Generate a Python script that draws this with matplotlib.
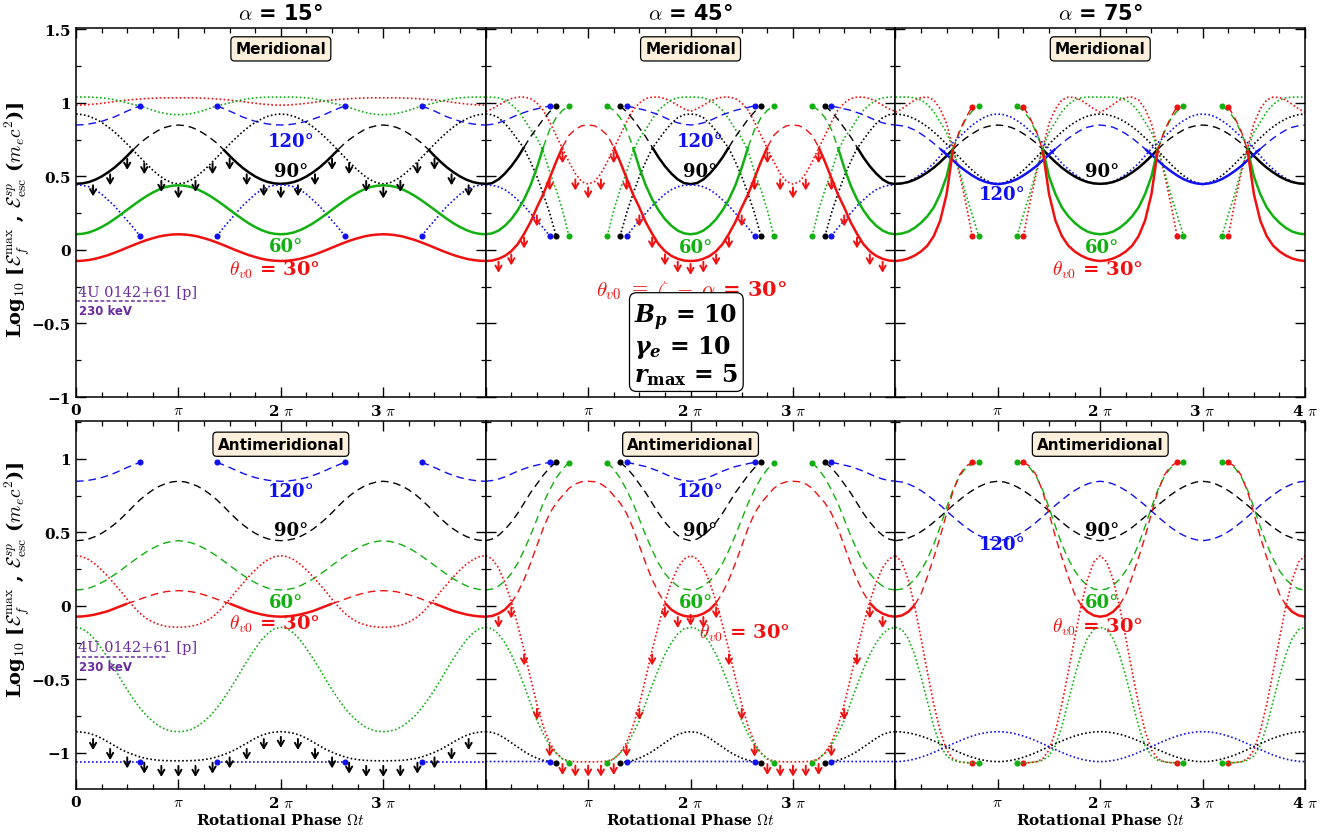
import numpy as np
import matplotlib
matplotlib.use('Agg')
import matplotlib.pyplot as plt
from matplotlib.ticker import MultipleLocator, FixedLocator, FixedFormatter

plt.rcParams['mathtext.fontset'] = 'cm'
plt.rcParams['font.family'] = ['DejaVu Serif']
plt.rcParams['font.weight'] = 'bold'

PI = np.pi
# phase grid over half a rotation period (units of pi); curves are read on it
HALF = np.arange(17) / 16.0

# ---------------- data ----------------
# top-left: alpha = 15, meridional
tl_red = [-0.075, -0.073, -0.068, -0.06, -0.048, -0.035, -0.019, -0.002, 0.016, 0.034, 0.051, 0.067, 0.08, 0.092, 0.1, 0.105, 0.107]
tl_red_dot = [0.985, 0.986, 0.989, 0.993, 0.998, 1.003, 1.01, 1.015, 1.02, 1.024, 1.027, 1.03, 1.032, 1.034, 1.035, 1.035, 1.035]
tl_green = [0.107, 0.11, 0.119, 0.135, 0.156, 0.181, 0.21, 0.241, 0.274, 0.306, 0.337, 0.366, 0.391, 0.412, 0.428, 0.437, 0.44]
tl_green_dot = [1.04, 1.04, 1.04, 1.038, 1.035, 1.03, 1.022, 1.012, 1.0, 0.99, 0.98, 0.965, 0.95, 0.937, 0.928, 0.922, 0.92]
tl_black = [0.45, 0.453, 0.462, 0.478, 0.5, 0.528, 0.56, 0.598, 0.64, 0.685, 0.727, 0.761, 0.791, 0.817, 0.835, 0.846, 0.85]
tl_black_dot = [0.925, 0.921, 0.91, 0.892, 0.868, 0.838, 0.803, 0.763, 0.72, 0.675, 0.63, 0.585, 0.543, 0.506, 0.477, 0.457, 0.45]
tl_blue = [0.85, 0.852, 0.857, 0.865, 0.875, 0.89, 0.905, 0.925, 0.945, 0.963, 0.98]
tl_blue_dot = [0.443, 0.44, 0.43, 0.41, 0.38, 0.34, 0.3, 0.25, 0.2, 0.15, 0.095]
tl_arrow_phase = [0, 1/6, 2/6, 3/6, 4/6, 5/6, 1]
tl_arrow_val = [0.425, 0.44, 0.515, 0.62, 0.59, 0.47, 0.425]

# top-middle: alpha = 45, meridional
tm_red = [-0.075, -0.072, -0.06, -0.04, -0.008, 0.04, 0.11, 0.19, 0.29, 0.38, 0.49, 0.6, 0.7, 0.78, 0.82, 0.845, 0.85]
tm_red_dot = [0.943, 0.96, 0.985, 1.01, 1.03, 1.04, 1.04, 1.03, 1.0, 0.95, 0.87, 0.78, 0.69, 0.6, 0.52, 0.465, 0.448]
tm_green = [0.107, 0.113, 0.132, 0.165, 0.21, 0.27, 0.345, 0.44, 0.56, 0.7, 0.82, 0.9, 0.95, 0.98]
tm_green_dot = [1.04, 1.04, 1.035, 1.02, 0.99, 0.95, 0.89, 0.82, 0.76, 0.67, 0.53, 0.41, 0.27, 0.095]
tm_black = [0.448, 0.455, 0.48, 0.52, 0.57, 0.63, 0.7, 0.77, 0.83, 0.89, 0.94, 0.98]
tm_black_dot = [0.925, 0.92, 0.9, 0.86, 0.81, 0.75, 0.69, 0.6, 0.5, 0.38, 0.25, 0.095]
tm_blue = [0.85, 0.855, 0.865, 0.88, 0.9, 0.92, 0.935, 0.95, 0.96, 0.97, 0.98]
tm_blue_dot = [0.443, 0.44, 0.43, 0.41, 0.38, 0.34, 0.3, 0.25, 0.2, 0.15, 0.095]
tm_arrow_phase = [0, 1/8, 2/8, 3/8, 4/8, 5/8, 6/8, 7/8, 1]
tm_arrow_val = [-0.095, -0.08, -0.03, 0.085, 0.235, 0.48, 0.665, 0.48, 0.425]

# top-right: alpha = 75, meridional
tr_red = [-0.075, -0.07, -0.058, -0.038, -0.01, 0.03, 0.095, 0.2, 0.38, 0.68, 0.81, 0.9, 0.975]
tr_red_dot = [0.937, 0.96, 0.99, 1.02, 1.037, 1.04, 1.02, 0.96, 0.86, 0.69, 0.52, 0.32, 0.095]
tr_green = [0.107, 0.112, 0.125, 0.15, 0.185, 0.23, 0.29, 0.38, 0.5, 0.69, 0.8, 0.89, 0.945, 0.98]
tr_green_dot = [1.04, 1.04, 1.04, 1.035, 1.02, 0.99, 0.94, 0.87, 0.8, 0.69, 0.54, 0.38, 0.24, 0.095]
tr_black = [0.45, 0.453, 0.462, 0.478, 0.5, 0.528, 0.56, 0.598, 0.64, 0.685, 0.727, 0.761, 0.791, 0.817, 0.835, 0.846, 0.85]
tr_black_dot = [0.925, 0.921, 0.91, 0.892, 0.868, 0.838, 0.803, 0.763, 0.72, 0.675, 0.63, 0.585, 0.543, 0.506, 0.477, 0.457, 0.45]
tr_blue = [0.85, 0.845, 0.835, 0.816, 0.79, 0.76, 0.725, 0.688, 0.649, 0.61, 0.57, 0.537, 0.507, 0.482, 0.464, 0.453, 0.448]
tr_blue_dot = [0.448, 0.452, 0.465, 0.487, 0.515, 0.55, 0.59, 0.64, 0.69, 0.73, 0.77, 0.81, 0.85, 0.88, 0.905, 0.92, 0.925]

# bottom-left: alpha = 15, antimeridional
bl_red = [-0.073, -0.071, -0.066, -0.058, -0.047, -0.035, -0.018, -0.001, 0.016, 0.03, 0.046, 0.062, 0.076, 0.088, 0.097, 0.102, 0.104]
bl_red_dot = [0.342, 0.335, 0.315, 0.285, 0.245, 0.2, 0.15, 0.1, 0.045, -0.005, -0.05, -0.085, -0.11, -0.127, -0.138, -0.143, -0.145]
bl_green = [0.109, 0.112, 0.121, 0.137, 0.158, 0.183, 0.212, 0.243, 0.276, 0.308, 0.339, 0.368, 0.393, 0.414, 0.43, 0.439, 0.444]
bl_green_dot = [-0.145, -0.155, -0.185, -0.23, -0.29, -0.355, -0.425, -0.5, -0.57, -0.635, -0.695, -0.745, -0.785, -0.818, -0.84, -0.852, -0.855]
bl_black = [0.444, 0.447, 0.456, 0.472, 0.494, 0.522, 0.555, 0.593, 0.635, 0.68, 0.722, 0.758, 0.789, 0.814, 0.832, 0.844, 0.848]
bl_black_dot = [-0.855, -0.858, -0.866, -0.88, -0.9, -0.925, -0.95, -0.975, -0.995, -1.012, -1.027, -1.038, -1.045, -1.05, -1.052, -1.053, -1.053]
bl_blue = [0.848, 0.85, 0.855, 0.863, 0.873, 0.887, 0.903, 0.922, 0.942, 0.96, 0.977]
bl_blue_dot = [-1.058, -1.058, -1.058, -1.058, -1.058, -1.058, -1.058, -1.058, -1.058, -1.058, -1.058]
bl_arrow_phase = [0, 1/6, 2/6, 3/6, 4/6, 5/6, 1]
bl_arrow_val = [-0.89, -0.905, -0.973, -1.03, -1.066, -1.088, -1.088]

# bottom-middle: alpha = 45, antimeridional
bm_red = [-0.073, -0.068, -0.052, -0.025, 0.02, 0.09, 0.18, 0.29, 0.41, 0.53, 0.63, 0.7, 0.75, 0.8, 0.83, 0.845, 0.848]
bm_red_dot = [0.342, 0.32, 0.26, 0.16, 0.03, -0.13, -0.3, -0.49, -0.67, -0.82, -0.93, -1.0, -1.04, -1.055, -1.059, -1.06, -1.06]
bm_green = [0.109, 0.115, 0.135, 0.17, 0.22, 0.29, 0.38, 0.48, 0.59, 0.7, 0.79, 0.87, 0.93, 0.975]
bm_green_dot = [-0.145, -0.155, -0.19, -0.25, -0.33, -0.43, -0.54, -0.66, -0.78, -0.87, -0.95, -1.0, -1.04, -1.065]
bm_black = [0.444, 0.455, 0.48, 0.52, 0.57, 0.63, 0.7, 0.77, 0.83, 0.89, 0.94, 0.977]
bm_black_dot = [-0.855, -0.86, -0.875, -0.9, -0.93, -0.96, -0.99, -1.015, -1.035, -1.05, -1.058, -1.065]
bm_blue = [0.848, 0.853, 0.863, 0.878, 0.897, 0.917, 0.933, 0.948, 0.958, 0.968, 0.977]
bm_blue_dot = [-1.058, -1.058, -1.058, -1.058, -1.058, -1.058, -1.058, -1.058, -1.058, -1.058, -1.062]
bm_arrow_phase = [0, 1/8, 2/8, 3/8, 4/8, 5/8, 6/8, 7/8, 1]
bm_arrow_val = [-0.06, -0.075, -0.01, -0.33, -0.7, -0.95, -1.075, -1.086, -1.086]

# bottom-right: alpha = 75, antimeridional
br_red = [-0.073, -0.065, -0.04, 0.005, 0.08, 0.2, 0.33, 0.47, 0.63, 0.78, 0.89, 0.95, 0.977]
br_red_dot = [0.342, 0.3, 0.18, 0.0, -0.22, -0.45, -0.67, -0.85, -0.98, -1.04, -1.06, -1.066, -1.068]
br_green = [0.109, 0.115, 0.14, 0.18, 0.24, 0.32, 0.42, 0.54, 0.67, 0.79, 0.88, 0.94, 0.965, 0.977]
br_green_dot = [-0.145, -0.16, -0.22, -0.33, -0.48, -0.65, -0.82, -0.95, -1.02, -1.05, -1.06, -1.065, -1.067, -1.068]
br_black = [0.444, 0.45, 0.462, 0.48, 0.505, 0.535, 0.57, 0.607, 0.646, 0.685, 0.72, 0.755, 0.785, 0.81, 0.83, 0.843, 0.848]
br_black_dot = [-0.855, -0.857, -0.863, -0.872, -0.885, -0.9, -0.918, -0.937, -0.957, -0.977, -0.996, -1.014, -1.029, -1.042, -1.051, -1.057, -1.059]
br_blue = [0.848, 0.843, 0.83, 0.81, 0.785, 0.755, 0.72, 0.685, 0.646, 0.607, 0.57, 0.535, 0.505, 0.48, 0.462, 0.45, 0.444]
br_blue_dot = [-1.059, -1.057, -1.051, -1.042, -1.029, -1.014, -0.996, -0.977, -0.957, -0.937, -0.918, -0.9, -0.885, -0.872, -0.863, -0.857, -0.855]

# observed cutoff (4U 0142+61, 230 keV) and its phase extent
obs_level = -0.35
obs_extent = 0.88

# axes ticks / labels
xtick_pos = [0, 1, 2, 3, 4]
xtick_txt = ['0', r'$\pi$', r'2 $\pi$', r'3 $\pi$', r'4 $\pi$']
ytick_top = [-1, -0.5, 0, 0.5, 1, 1.5]
ytick_top_txt = ['\u22121', '\u22120.5', '0', '0.5', '1', '1.5']
ytick_bot = [-1, -0.5, 0, 0.5, 1]
ytick_bot_txt = ['\u22121', '\u22120.5', '0', '0.5', '1']
alphas = ['15', '45', '75']

# ---------------- helpers ----------------
RED, GREEN, BLUE, BLACK, PURPLE = '#f01010', '#10b010', '#1010f0', 'black', '#6a2c9e'
DASH = (0, (5.5, 3.5))
DOT = (0, (1.0, 1.4))
LW = {'-': 1.8, DASH: 1.0, DOT: 1.2}

XF = np.concatenate([HALF, 2 - HALF[::-1][1:]])
XF = np.concatenate([XF, XF[1:] + 2])


def pad(vals):
    y = np.full(17, np.nan)
    y[:len(vals)] = vals
    return y


def unfold(y):
    per = np.concatenate([y, y[::-1][1:]])
    return np.concatenate([per, per[1:]])


def curve(ax, vals, color, ls, switch=None, ls2=None):
    y = pad(vals)
    if switch is None:
        pieces = [(y, ls)]
    else:
        pieces = [(np.where(HALF <= switch + 1e-9, y, np.nan), ls),
                  (np.where(HALF >= switch - 1e-9, y, np.nan), ls2)]
    for arr, st in pieces:
        ax.plot(XF * PI, unfold(arr), color=color, ls=st, lw=LW[st],
                solid_capstyle='butt', dash_capstyle='butt')
    if len(vals) < 17:
        pe = HALF[len(vals) - 1]
        xs = np.array([pe, 2 - pe, 2 + pe, 4 - pe]) * PI
        ax.plot(xs, [vals[-1]] * 4, 'o', color=color, ms=4.4, mew=0)


def arrows(ax, phases, vals, color):
    ph = np.asarray(phases, float)
    va = np.asarray(vals, float)
    P = np.concatenate([ph, 2 - ph[::-1][1:]])
    V = np.concatenate([va, va[::-1][1:]])
    P = np.concatenate([P, P[1:] + 2])
    V = np.concatenate([V, V[1:]])
    for p, v in zip(P, V):
        if 0.01 < p < 3.99:
            ax.annotate('', xy=(p * PI, v - 0.075), xytext=(p * PI, v),
                        arrowprops=dict(arrowstyle='->,head_width=0.22,head_length=0.38',
                                        color=color, lw=1.4, shrinkA=0, shrinkB=0))


def label(ax, p, y, s, color, size=13):
    ax.text(p * PI, y, s, color=color, fontsize=size, ha='center', va='center', fontweight='bold')


def boxlabel(ax, y, s):
    ax.text(2.0 * PI, y, s, fontsize=11, fontweight='bold', ha='center', va='center',
            family='DejaVu Sans',
            bbox=dict(boxstyle='round,pad=0.3,rounding_size=0.25', fc='#fcefdc', ec='black', lw=0.9))


# ---------------- figure ----------------
fig = plt.figure(figsize=(13.35, 8.37), dpi=100)
L0 = 76 / 1335
W = 409.7 / 1335
rows = [(1 - 398 / 837, 369 / 837), (1 - 790 / 837, 368 / 837)]
axes = [[fig.add_axes([L0 + c * W, rows[r][0], W, rows[r][1]]) for c in range(3)] for r in range(2)]

for r in range(2):
    for c in range(3):
        ax = axes[r][c]
        ax.set_xlim(0, 4 * PI)
        if r == 0:
            ax.set_ylim(-1.0, 1.51)
        else:
            ax.set_ylim(-1.245, 1.258)
        ax.xaxis.set_major_locator(FixedLocator([p * PI for p in xtick_pos]))
        labs = list(xtick_txt)
        if c == 0:
            labs[4] = ''
        elif c == 1:
            labs[0] = ''
            labs[4] = ''
        else:
            labs[0] = ''
        ax.xaxis.set_major_formatter(FixedFormatter(labs))
        ax.xaxis.set_minor_locator(MultipleLocator(PI / 4))
        if r == 0:
            ax.yaxis.set_major_locator(FixedLocator(ytick_top))
            ax.yaxis.set_major_formatter(FixedFormatter(ytick_top_txt if c == 0 else [''] * 6))
        else:
            ax.yaxis.set_major_locator(FixedLocator(ytick_bot))
            ax.yaxis.set_major_formatter(FixedFormatter(ytick_bot_txt if c == 0 else [''] * 5))
        ax.yaxis.set_minor_locator(MultipleLocator(0.25))
        ax.tick_params(which='both', direction='in', top=True, right=True, labelsize=11, pad=4)
        ax.tick_params(which='major', length=7, width=1.0)
        ax.tick_params(which='minor', length=3.5, width=0.9)
        for sp in ax.spines.values():
            sp.set_linewidth(1.1)

# top-left
ax = axes[0][0]
curve(ax, tl_red_dot, RED, DOT)
curve(ax, tl_green_dot, GREEN, DOT)
curve(ax, tl_blue, BLUE, DASH)
curve(ax, tl_black_dot, BLACK, DOT)
curve(ax, tl_black, BLACK, '-', 0.5625, DASH)
curve(ax, tl_blue_dot, BLUE, DOT)
curve(ax, tl_green, GREEN, '-')
curve(ax, tl_red, RED, '-')
arrows(ax, tl_arrow_phase, tl_arrow_val, BLACK)

# top-middle
ax = axes[0][1]
curve(ax, tm_red_dot, RED, DOT)
curve(ax, tm_green_dot, GREEN, DOT)
curve(ax, tm_blue, BLUE, DASH)
curve(ax, tm_black_dot, BLACK, DOT)
curve(ax, tm_black, BLACK, '-', 0.375, DASH)
curve(ax, tm_blue_dot, BLUE, DOT)
curve(ax, tm_green, GREEN, '-', 0.5625, DASH)
curve(ax, tm_red, RED, '-', 0.75, DASH)
arrows(ax, tm_arrow_phase, tm_arrow_val, RED)

# top-right
ax = axes[0][2]
curve(ax, tr_red_dot, RED, DOT)
curve(ax, tr_green_dot, GREEN, DOT)
curve(ax, tr_black_dot, BLACK, DOT)
curve(ax, tr_blue_dot, BLUE, DOT)
curve(ax, tr_black, BLACK, '-', 0.5625, DASH)
curve(ax, tr_blue, BLUE, DASH, 0.4375, '-')
curve(ax, tr_green, GREEN, '-', 0.5625, DASH)
curve(ax, tr_red, RED, '-', 0.5625, DASH)

# bottom-left
ax = axes[1][0]
curve(ax, bl_blue, BLUE, DASH)
curve(ax, bl_black, BLACK, DASH)
curve(ax, bl_green, GREEN, DASH)
curve(ax, bl_red_dot, RED, DOT)
curve(ax, bl_red, RED, '-', 0.5, DASH)
curve(ax, bl_green_dot, GREEN, DOT)
curve(ax, bl_black_dot, BLACK, DOT)
curve(ax, bl_blue_dot, BLUE, DOT)
arrows(ax, bl_arrow_phase, bl_arrow_val, BLACK)

# bottom-middle
ax = axes[1][1]
curve(ax, bm_blue, BLUE, DASH)
curve(ax, bm_black, BLACK, DASH)
curve(ax, bm_green, GREEN, DASH)
curve(ax, bm_red, RED, '-', 0.25, DASH)
curve(ax, bm_red_dot, RED, DOT)
curve(ax, bm_green_dot, GREEN, DOT)
curve(ax, bm_black_dot, BLACK, DOT)
curve(ax, bm_blue_dot, BLUE, DOT)
arrows(ax, bm_arrow_phase, bm_arrow_val, RED)

# bottom-right
ax = axes[1][2]
curve(ax, br_blue, BLUE, DASH)
curve(ax, br_black, BLACK, DASH)
curve(ax, br_green, GREEN, DASH)
curve(ax, br_red, RED, '-', 0.1875, DASH)
curve(ax, br_red_dot, RED, DOT)
curve(ax, br_green_dot, GREEN, DOT)
curve(ax, br_black_dot, BLACK, DOT)
curve(ax, br_blue_dot, BLUE, DOT)

# ---------------- annotations ----------------
t30 = r'$\theta_{v0}$ = 30°'
for r, (y120, y90, y60, y30) in enumerate([(0.74, 0.535, 0.025, -0.13), (0.78, 0.52, 0.027, -0.12)]):
    ax = axes[r][0]
    label(ax, 2.1, y120, '120°', BLUE)
    label(ax, 2.1, y90, '90°', BLACK)
    label(ax, 2.05, y60, '60°', GREEN)
    label(ax, 1.94, y30, t30, RED, 14)
    ax.plot([0, obs_extent * PI], [obs_level, obs_level], color=PURPLE, ls=(0, (2.5, 1.5)), lw=1.1)
    ax.text(0.02 * PI, obs_level + 0.02, '4U 0142+61 [p]', color=PURPLE,
            fontsize=10.5, fontweight='normal', ha='left', va='bottom')
    ax.text(0.03 * PI, obs_level - 0.02, '230 keV', color=PURPLE, fontsize=8.5,
            fontweight='bold', family='DejaVu Sans', ha='left', va='top')

ax = axes[0][1]
label(ax, 2.09, 0.74, '120°', BLUE)
label(ax, 2.09, 0.535, '90°', BLACK)
label(ax, 2.05, 0.017, '60°', GREEN)
label(ax, 2.01, -0.27, r'$\theta_{v0}\ \equiv\ \zeta\ -\ \alpha$ = 30°', RED, 15)
ax.text(1.45 * PI, -0.64,
        r'$\mathbfit{B_p}$ = 10' + '\n' + r'$\mathbfit{\gamma_e}$ = 10' + '\n' +
        r'$\mathbfit{r}_{\mathbf{max}}$ = 5',
        fontsize=17, ha='left', va='center', linespacing=1.05, math_fontfamily='dejavuserif',
        bbox=dict(boxstyle='round,pad=0.2,rounding_size=0.3', fc='white', ec='black', lw=0.9))

ax = axes[0][2]
label(ax, 2.02, 0.535, '90°', BLACK)
label(ax, 1.04, 0.38, '120°', BLUE)
label(ax, 2.02, 0.02, '60°', GREEN)
label(ax, 1.97, -0.13, t30, RED, 14)

ax = axes[1][1]
label(ax, 2.09, 0.78, '120°', BLUE)
label(ax, 2.09, 0.52, '90°', BLACK)
label(ax, 2.05, 0.027, '60°', GREEN)
label(ax, 2.53, -0.18, t30, RED, 14)

ax = axes[1][2]
label(ax, 2.02, 0.52, '90°', BLACK)
label(ax, 1.04, 0.42, '120°', BLUE)
label(ax, 2.02, 0.027, '60°', GREEN)
label(ax, 1.97, -0.136, t30, RED, 14)

for c in range(3):
    boxlabel(axes[0][c], 1.368, 'Meridional')
    boxlabel(axes[1][c], 1.10, 'Antimeridional')
    axes[1][c].set_xlabel(r'Rotational Phase $\Omega t$', fontsize=11, fontweight='bold', labelpad=2)
    fig.text(L0 + (c + 0.5) * W, 1 - 14 / 837, r'$\alpha$ = ' + alphas[c] + '°',
             fontsize=15, fontweight='bold', family='DejaVu Sans', ha='center', va='center')

ylab = r'Log$_{\mathbf{10}}$ [$\mathcal{E}_f^{\mathrm{max}}$ , $\mathcal{E}_{\mathrm{esc}}^{sp}$ ($m_e c^2$)]'
fig.text(17 / 1335, 1 - 220 / 837, ylab, rotation=90, fontsize=14, fontweight='bold', ha='center', va='center')
fig.text(17 / 1335, 1 - 580 / 837, ylab, rotation=90, fontsize=14, fontweight='bold', ha='center', va='center')

fig.savefig('out.png', dpi=100)
